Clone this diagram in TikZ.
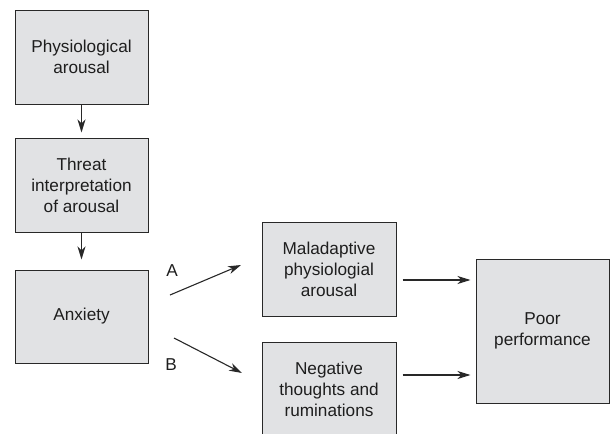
\documentclass[tikz,border=0pt]{standalone}
\usepackage{fontspec}
\setmainfont{Liberation Sans}
\usetikzlibrary{arrows.meta}
\definecolor{boxfill}{RGB}{225,226,228}
\definecolor{lineclr}{RGB}{40,40,40}
\definecolor{txtclr}{RGB}{30,30,30}
\begin{document}
\begin{tikzpicture}[x=1pt,y=-1pt,
  box/.style={draw=lineclr, fill=boxfill, line width=1pt, align=center, inner sep=0pt,
              font=\fontsize{17.2}{21}\selectfont, text=txtclr},
  arr/.style={draw=lineclr, line width=1.1pt, -{Stealth[length=13pt,width=8pt,inset=4pt]}},
  lbl/.style={font=\fontsize{17.2}{21}\selectfont, text=txtclr, inner sep=0pt}]
\path[use as bounding box] (0,0) rectangle (611,434);
\clip (0,0) rectangle (611,434);
\node[box, minimum width=133pt, minimum height=94pt] (phys) at (81.5,57) {Physiological\\arousal};
\node[box, minimum width=133pt, minimum height=94pt] (threat) at (81.5,185) {Threat\\interpretation\\of arousal};
\node[box, minimum width=133pt, minimum height=93pt] (anx) at (81.5,316.5) {Anxiety};
\node[box, minimum width=134pt, minimum height=94pt] (mal) at (329,269) {Maladaptive\\physiologial\\arousal};
\node[box, minimum width=134pt, minimum height=95pt] (neg) at (329,389.5) {Negative\\thoughts and\\ruminations};
\node[box, minimum width=133pt, minimum height=144pt] (poor) at (542.5,331) {Poor\\performance};
\node[lbl] (la) at (172,271) {A};
\node[lbl] (lb) at (171,365) {B};
\coordinate (pa) at (0,280);
\coordinate (pb) at (0,375);
\coordinate (a1) at (170,295);
\coordinate (a2) at (241,265);
\coordinate (b1) at (174,338);
\coordinate (b2) at (242,373);
\draw[arr, shorten >=5pt] (phys) -- (threat);
\draw[arr, shorten >=10pt] (threat) -- (anx);
\draw[arr] (a1) -- (a2);
\draw[arr] (b1) -- (b2);
\draw[arr, shorten <=6pt, shorten >=5pt] (mal.east |- pa) -- (poor.west |- pa);
\draw[arr, shorten <=6pt, shorten >=5pt] (neg.east |- pb) -- (poor.west |- pb);
\end{tikzpicture}
\end{document}
